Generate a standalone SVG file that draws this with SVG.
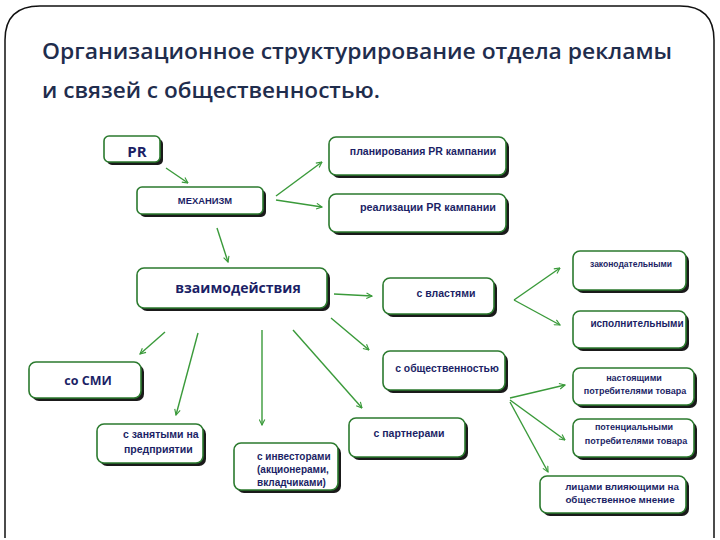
<svg xmlns="http://www.w3.org/2000/svg" width="720" height="540" viewBox="0 0 720 540">
<defs>
<style>
.sh{fill:#1a1a1a}
.bx{fill:#ffffff;stroke:#2b7a2e;stroke-width:1.6}
.t{font-family:"Liberation Sans",Arial,sans-serif;font-weight:bold;fill:#1c1f66;text-anchor:middle}
.tl{font-family:"Liberation Sans",Arial,sans-serif;font-weight:bold;fill:#1c1f66}
.tb{font-family:"Open Sans","Liberation Sans",sans-serif;font-weight:bold;fill:#1c1f66;text-anchor:middle}
.ttl{font-family:"Open Sans","Noto Sans",sans-serif;font-weight:600;fill:#1f2d4d;font-size:22px}
.c{stroke:#3a9a3a;stroke-width:1.4;fill:none;marker-end:url(#ah)}
</style>
<marker id="ah" viewBox="0 0 10 10" refX="9" refY="5" markerWidth="7" markerHeight="7" orient="auto" markerUnits="userSpaceOnUse">
<path d="M1,1 L9,5 L1,9" fill="none" stroke="#3a9a3a" stroke-width="1.6"/>
</marker>
</defs>
<rect width="720" height="540" fill="#ffffff"/>
<path d="M5,538 L5,40 Q5,6 40,6 L680,6 Q714,6 714,40 L714,538" fill="none" stroke="#111" stroke-width="1.5"/>
<text class="ttl" x="42" y="59" textLength="630" lengthAdjust="spacingAndGlyphs">Организационное структурирование отдела рекламы</text>
<text class="ttl" x="42" y="98" textLength="338" lengthAdjust="spacingAndGlyphs">и связей с общественностью.</text>

<g id="connectors">
<line class="c" x1="166" y1="168" x2="188" y2="183"/>
<line class="c" x1="276" y1="196" x2="322" y2="162"/>
<line class="c" x1="276" y1="200" x2="322" y2="207"/>
<line class="c" x1="217" y1="228" x2="228" y2="262"/>
<line class="c" x1="334" y1="294" x2="372" y2="296"/>
<line class="c" x1="331" y1="318" x2="369" y2="350"/>
<line class="c" x1="165" y1="332" x2="140" y2="354"/>
<line class="c" x1="198" y1="333" x2="176" y2="415"/>
<line class="c" x1="262" y1="330" x2="262" y2="425"/>
<line class="c" x1="293" y1="330" x2="362" y2="408"/>
<line class="c" x1="514" y1="300" x2="560" y2="268"/>
<line class="c" x1="514" y1="300" x2="560" y2="325"/>
<line class="c" x1="510" y1="398" x2="565" y2="385"/>
<line class="c" x1="510" y1="400" x2="565" y2="440"/>
<line class="c" x1="510" y1="402" x2="548" y2="472"/>
</g>

<g id="n-pr">
<rect class="sh" x="107" y="139" width="56" height="26" rx="5"/>
<rect class="bx" x="104" y="136" width="56" height="26" rx="5"/>
<text class="tb" x="137" y="157" style="font-size:15px">PR</text>
</g>
<g id="n-mech">
<rect class="sh" x="140" y="190" width="126" height="27" rx="5"/>
<rect class="bx" x="137" y="187" width="126" height="27" rx="5"/>
<text class="t" x="205" y="204" style="font-size:9.4px">МЕХАНИЗМ</text>
</g>
<g id="n-plan">
<rect class="sh" x="332" y="140" width="177" height="38" rx="7"/>
<rect class="bx" x="329" y="137" width="177" height="38" rx="7"/>
<text class="t" x="423" y="155" style="font-size:10.5px">планирования PR кампании</text>
</g>
<g id="n-real">
<rect class="sh" x="332" y="197" width="177" height="38" rx="7"/>
<rect class="bx" x="329" y="194" width="177" height="38" rx="7"/>
<text class="t" x="428" y="211" style="font-size:10.8px">реализации PR кампании</text>
</g>
<g id="n-vz">
<rect class="sh" x="140" y="271" width="190" height="40" rx="7"/>
<rect class="bx" x="137" y="268" width="190" height="40" rx="7"/>
<text class="tb" x="238" y="293" style="font-size:14px">взаимодействия</text>
</g>
<g id="n-vlast">
<rect class="sh" x="386" y="281" width="111" height="36" rx="7"/>
<rect class="bx" x="383" y="278" width="111" height="36" rx="7"/>
<text class="t" x="446" y="297" style="font-size:10.5px">с властями</text>
</g>
<g id="n-obsh">
<rect class="sh" x="386" y="354" width="122" height="39" rx="7"/>
<rect class="bx" x="383" y="351" width="122" height="39" rx="7"/>
<text class="t" x="447" y="372" style="font-size:10.4px">с общественностью</text>
</g>
<g id="n-zak">
<rect class="sh" x="576" y="254" width="113" height="39" rx="7"/>
<rect class="bx" x="573" y="251" width="113" height="39" rx="7"/>
<text class="t" x="631" y="267" style="font-size:8.5px">законодательными</text>
</g>
<g id="n-isp">
<rect class="sh" x="576" y="314" width="113" height="37" rx="7"/>
<rect class="bx" x="573" y="311" width="113" height="37" rx="7"/>
<text class="t" x="637" y="327" style="font-size:10px">исполнительными</text>
</g>
<g id="n-nast">
<rect class="sh" x="576" y="371" width="121" height="37" rx="7"/>
<rect class="bx" x="573" y="368" width="121" height="37" rx="7"/>
<text class="t" x="634" y="381" style="font-size:9px">настоящими</text>
<text class="t" x="635" y="394" style="font-size:9px">потребителями товара</text>
</g>
<g id="n-pot">
<rect class="sh" x="576" y="422" width="121" height="38" rx="7"/>
<rect class="bx" x="573" y="419" width="121" height="38" rx="7"/>
<text class="t" x="634" y="430" style="font-size:9px">потенциальными</text>
<text class="t" x="636" y="444" style="font-size:9px">потребителями товара</text>
</g>
<g id="n-lic">
<rect class="sh" x="543" y="479" width="146" height="37" rx="7"/>
<rect class="bx" x="540" y="476" width="146" height="37" rx="7"/>
<text class="t" x="622" y="490" style="font-size:9.8px">лицами влияющими на</text>
<text class="t" x="620" y="503" style="font-size:9.8px">общественное мнение</text>
</g>
<g id="n-smi">
<rect class="sh" x="32" y="365" width="112" height="36" rx="7"/>
<rect class="bx" x="29" y="362" width="112" height="36" rx="7"/>
<text class="tb" x="88" y="385" style="font-size:12.5px">со СМИ</text>
</g>
<g id="n-zan">
<rect class="sh" x="100" y="427" width="106" height="39" rx="7"/>
<rect class="bx" x="97" y="424" width="106" height="39" rx="7"/>
<text class="tl" x="123" y="438" style="font-size:10.5px">с занятыми на</text>
<text class="tl" x="124" y="453" style="font-size:10.5px">предприятии</text>
</g>
<g id="n-inv">
<rect class="sh" x="237" y="446" width="104" height="47" rx="7"/>
<rect class="bx" x="234" y="443" width="104" height="47" rx="7"/>
<text class="tl" x="257" y="460" style="font-size:10px">с инвесторами</text>
<text class="tl" x="257" y="473" style="font-size:10px">(акционерами,</text>
<text class="tl" x="257" y="486" style="font-size:10px">вкладчиками)</text>
</g>
<g id="n-part">
<rect class="sh" x="352" y="421" width="116" height="39" rx="7"/>
<rect class="bx" x="349" y="418" width="116" height="39" rx="7"/>
<text class="t" x="409" y="437" style="font-size:10.5px">с партнерами</text>
</g>
</svg>
